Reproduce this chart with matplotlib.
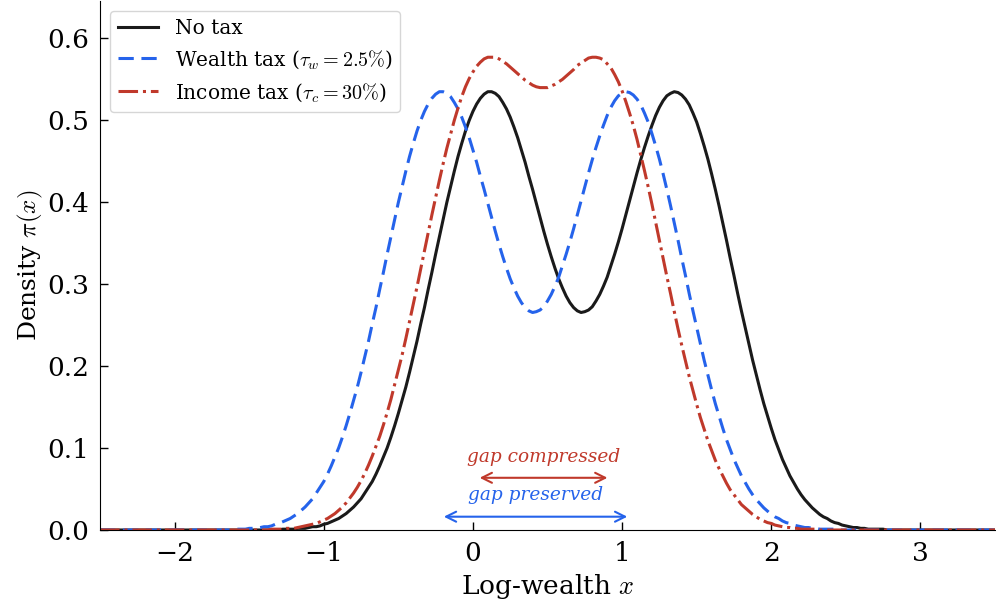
import numpy as np
import matplotlib
matplotlib.use("Agg")
import matplotlib.pyplot as plt

# log-wealth grid, -1.7 .. 2.9 in steps of 0.025 (density is ~0 outside)
log_wealth = np.round(np.arange(-1.7, 2.9001, 0.025), 3)
x_edges = (-2.5, 3.5)

# densities, in thousandths
no_tax = [0, 0, 0, 0, 0, 0, 0, 0, 0, 0, 0, 0, 0, 0, 0, 0, 0, 1, 1, 1,
          1, 2, 2, 2, 3, 4, 4, 5, 7, 8, 10, 12, 14, 17, 20, 24, 28, 33, 38, 45,
          52, 59, 68, 78, 89, 100, 113, 127, 142, 158, 174, 192, 211, 230, 251, 271, 293, 314, 336, 357,
          378, 399, 418, 437, 455, 471, 486, 499, 510, 519, 526, 531, 534, 534, 532, 528, 521, 513, 503, 491,
          478, 463, 448, 431, 415, 398, 381, 364, 348, 333, 319, 306, 295, 285, 277, 271, 267, 265, 266, 268,
          272, 279, 287, 297, 308, 322, 336, 351, 367, 384, 401, 418, 435, 451, 466, 480, 493, 505, 515, 523,
          529, 532, 534, 533, 530, 525, 518, 508, 497, 483, 468, 452, 434, 415, 395, 374, 353, 331, 310, 288,
          267, 247, 227, 207, 189, 171, 154, 139, 124, 110, 98, 86, 76, 66, 58, 50, 43, 37, 32, 27,
          23, 19, 16, 14, 11, 9, 8, 6, 5, 4, 3, 3, 2, 2, 1, 1, 1, 1, 1, 0,
          0, 0, 0, 0, 0]

wealth_tax = [0, 0, 0, 0, 1, 1, 1,
              1, 2, 2, 2, 3, 4, 4, 5, 7, 8, 10, 12, 14, 17, 20, 24, 28, 33, 38, 45,
              52, 59, 68, 78, 89, 100, 113, 127, 142, 158, 174, 192, 211, 230, 251, 271, 293, 314, 336, 357,
              378, 399, 418, 437, 455, 471, 486, 499, 510, 519, 526, 531, 534, 534, 532, 528, 521, 513, 503, 491,
              478, 463, 448, 431, 415, 398, 381, 364, 348, 333, 319, 306, 295, 285, 277, 271, 267, 265, 266, 268,
              272, 279, 287, 297, 308, 322, 336, 351, 367, 384, 401, 418, 435, 451, 466, 480, 493, 505, 515, 523,
              529, 532, 534, 533, 530, 525, 518, 508, 497, 483, 468, 452, 434, 415, 395, 374, 353, 331, 310, 288,
              267, 247, 227, 207, 189, 171, 154, 139, 124, 110, 98, 86, 76, 66, 58, 50, 43, 37, 32, 27,
              23, 19, 16, 14, 11, 9, 8, 6, 5, 4, 3, 3, 2, 2, 1, 1, 1, 1, 1, 0,
              0, 0, 0, 0, 0, 0, 0, 0, 0, 0, 0, 0, 0, 0, 0, 0, 0, 0]

income_tax = [0, 0, 0, 0, 0, 0, 0, 0, 0, 0, 0, 0, 0, 0, 1, 1, 1, 1, 2, 2,
              2, 3, 4, 5, 6, 7, 8, 10, 12, 14, 17, 20, 24, 28, 33, 39, 45, 52, 60, 69,
              79, 90, 102, 114, 128, 143, 159, 177, 195, 213, 233, 254, 275, 296, 318, 340, 362, 384, 405, 426,
              446, 465, 482, 499, 514, 528, 540, 550, 558, 565, 570, 574, 576, 576, 576, 574, 571, 568, 564, 560,
              556, 552, 548, 545, 542, 540, 539, 539, 539, 541, 543, 546, 549, 553, 557, 561, 566, 569, 572, 575,
              576, 576, 575, 573, 568, 563, 555, 546, 535, 522, 508, 493, 476, 457, 438, 418, 397, 375, 353, 331,
              309, 288, 266, 245, 225, 206, 187, 170, 153, 137, 123, 109, 97, 85, 75, 66, 57, 49, 43, 37,
              31, 27, 23, 19, 16, 13, 11, 9, 8, 6, 5, 4, 3, 3, 2, 2, 1, 1, 1, 1,
              1, 0, 0, 0, 0, 0, 0, 0, 0, 0, 0, 0, 0, 0, 0, 0, 0, 0, 0, 0,
              0, 0, 0, 0, 0]

# gap arrows (x from, x to, y) and their labels
gap_compressed = (0.045, 0.902, 0.0636)
gap_preserved = (-0.195, 1.035, 0.0162)

black = '#1a1a1a'
blue = '#2563EB'
red = '#C0392B'


def padded(vals):
    xs = np.concatenate(([x_edges[0]], log_wealth, [x_edges[1]]))
    ys = np.concatenate(([0], np.array(vals) / 1000, [0]))
    return xs, ys


plt.rcParams['font.family'] = 'DejaVu Serif'
plt.rcParams['mathtext.fontset'] = 'cm'
fig, ax = plt.subplots(figsize=(9.96, 6.08), dpi=100)
fig.subplots_adjust(left=0.1004, right=0.999, bottom=0.1283, top=0.999)

ax.plot(*padded(no_tax), color=black, lw=2.2, label='No tax')
ax.plot(*padded(wealth_tax), color=blue, lw=2.2, ls=(0, (5, 2.5)), label=r'Wealth tax ($\tau_w = 2.5\%$)')
ax.plot(*padded(income_tax), color=red, lw=2.2, ls='-.', label=r'Income tax ($\tau_c = 30\%$)')

x0, x1, yy = gap_compressed
ax.annotate('', xy=(x1, yy), xytext=(x0, yy),
            arrowprops=dict(arrowstyle='<->', color=red, lw=1.5, mutation_scale=18, shrinkA=0, shrinkB=0))
ax.text((x0 + x1) / 2, 0.089, 'gap compressed', color=red, style='italic', fontsize=13.3,
        ha='center', va='center')
x0, x1, yy = gap_preserved
ax.annotate('', xy=(x1, yy), xytext=(x0, yy),
            arrowprops=dict(arrowstyle='<->', color=blue, lw=1.5, mutation_scale=18, shrinkA=0, shrinkB=0))
ax.text((x0 + x1) / 2, 0.0425, 'gap preserved', color=blue, style='italic', fontsize=13.3,
        ha='center', va='center')

ax.set_xlim(*x_edges)
ax.set_ylim(0, 0.645)
ax.set_xticks([-2, -1, 0, 1, 2, 3])
ax.set_yticks([0.0, 0.1, 0.2, 0.3, 0.4, 0.5, 0.6])
ax.set_yticklabels(['%.1f' % v for v in ax.get_yticks()])
ax.tick_params(direction='in', length=6, width=1, pad=8, labelsize=19)
ax.spines['top'].set_visible(False)
ax.spines['right'].set_visible(False)
ax.set_xlabel(r'Log-wealth $x$', fontsize=19, labelpad=4)
ax.set_ylabel(r'Density $\pi(x)$', fontsize=18, labelpad=1.5)
ax.legend(loc='upper left', fontsize=14.5)
fig.savefig('out.png')
